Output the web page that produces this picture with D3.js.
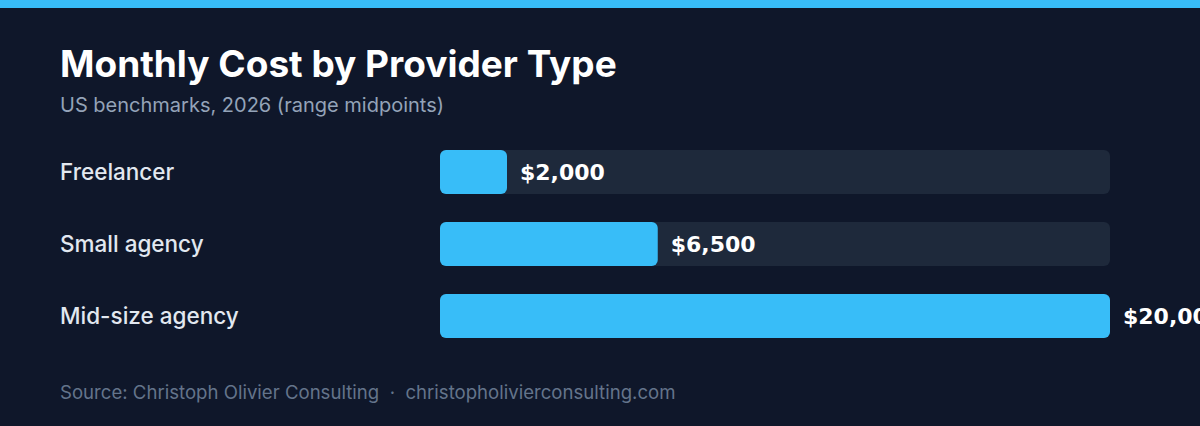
<!DOCTYPE html>
<html>
<head>
<meta charset="utf-8">
<script src="https://cdn.jsdelivr.net/npm/d3@7"></script>
<style>
  html, body { margin: 0; padding: 0; background: #0f172a; }
  svg { display: block; }
</style>
</head>
<body>
<div id="chart"></div>
<script>
var providers = ["Freelancer", "Small agency", "Mid-size agency"];
var costs = [2000, 6500, 20000];
var titleText = "Monthly Cost by Provider Type";
var subtitleText = "US benchmarks, 2026 (range midpoints)";
var sourceText = "Source: Christoph Olivier Consulting  \u00b7  christopholivierconsulting.com";

var width = 1200, height = 426;
var barLeft = 440, barRight = 1110;

var svg = d3.select("#chart").append("svg")
    .attr("width", width)
    .attr("height", height);

svg.append("rect")
    .attr("width", width)
    .attr("height", height)
    .attr("fill", "#0f172a");

// accent strip on top
svg.append("rect")
    .attr("width", width)
    .attr("height", 8)
    .attr("fill", "#38bdf8");

svg.append("text")
    .attr("x", 60)
    .attr("y", 77)
    .attr("fill", "#ffffff")
    .style("font-family", "Inter, sans-serif")
    .style("font-weight", 700)
    .style("font-size", "37px")
    .text(titleText);

svg.append("text")
    .attr("x", 60)
    .attr("y", 112)
    .attr("fill", "#94a3b8")
    .style("font-family", "Inter, sans-serif")
    .style("font-size", "20px")
    .text(subtitleText);

var x = d3.scaleLinear()
    .domain([0, d3.max(costs)])
    .range([barLeft, barRight]);

// 44px bars every 72px
var y = d3.scaleBand()
    .domain(providers)
    .range([150, 338])
    .paddingInner(28 / 72)
    .paddingOuter(0);

var rows = svg.selectAll(".row")
    .data(providers)
    .enter().append("g")
    .attr("class", "row");

// background track
rows.append("rect")
    .attr("x", x(0))
    .attr("y", function (d) { return y(d); })
    .attr("width", x.range()[1] - x.range()[0])
    .attr("height", y.bandwidth())
    .attr("rx", 6)
    .attr("fill", "#1e293b");

rows.append("rect")
    .attr("x", x(0))
    .attr("y", function (d) { return y(d); })
    .attr("width", function (d, i) { return x(costs[i]) - x(0); })
    .attr("height", y.bandwidth())
    .attr("rx", 6)
    .attr("fill", "#38bdf8");

rows.append("text")
    .attr("x", 60)
    .attr("y", function (d) { return y(d) + y.bandwidth() / 2; })
    .attr("dy", "0.35em")
    .attr("fill", "#e2e8f0")
    .style("font-family", "Inter, sans-serif")
    .style("font-size", "22.5px")
    .style("font-weight", 500)
    .text(function (d) { return d; });

var fmt = d3.format("$,");
rows.append("text")
    .attr("x", function (d, i) { return x(costs[i]) + 13; })
    .attr("y", function (d) { return y(d) + y.bandwidth() / 2; })
    .attr("dy", "0.36em")
    .attr("fill", "#ffffff")
    .style("font-family", "'DejaVu Sans', sans-serif")
    .style("font-weight", 700)
    .style("font-size", "22px")
    .text(function (d, i) { return fmt(costs[i]); });

svg.append("text")
    .attr("x", 60)
    .attr("y", 399)
    .attr("fill", "#64748b")
    .style("font-family", "Inter, sans-serif")
    .style("font-size", "18.6px")
    .style("white-space", "pre")
    .attr("xml:space", "preserve")
    .text(sourceText);
</script>
</body>
</html>
